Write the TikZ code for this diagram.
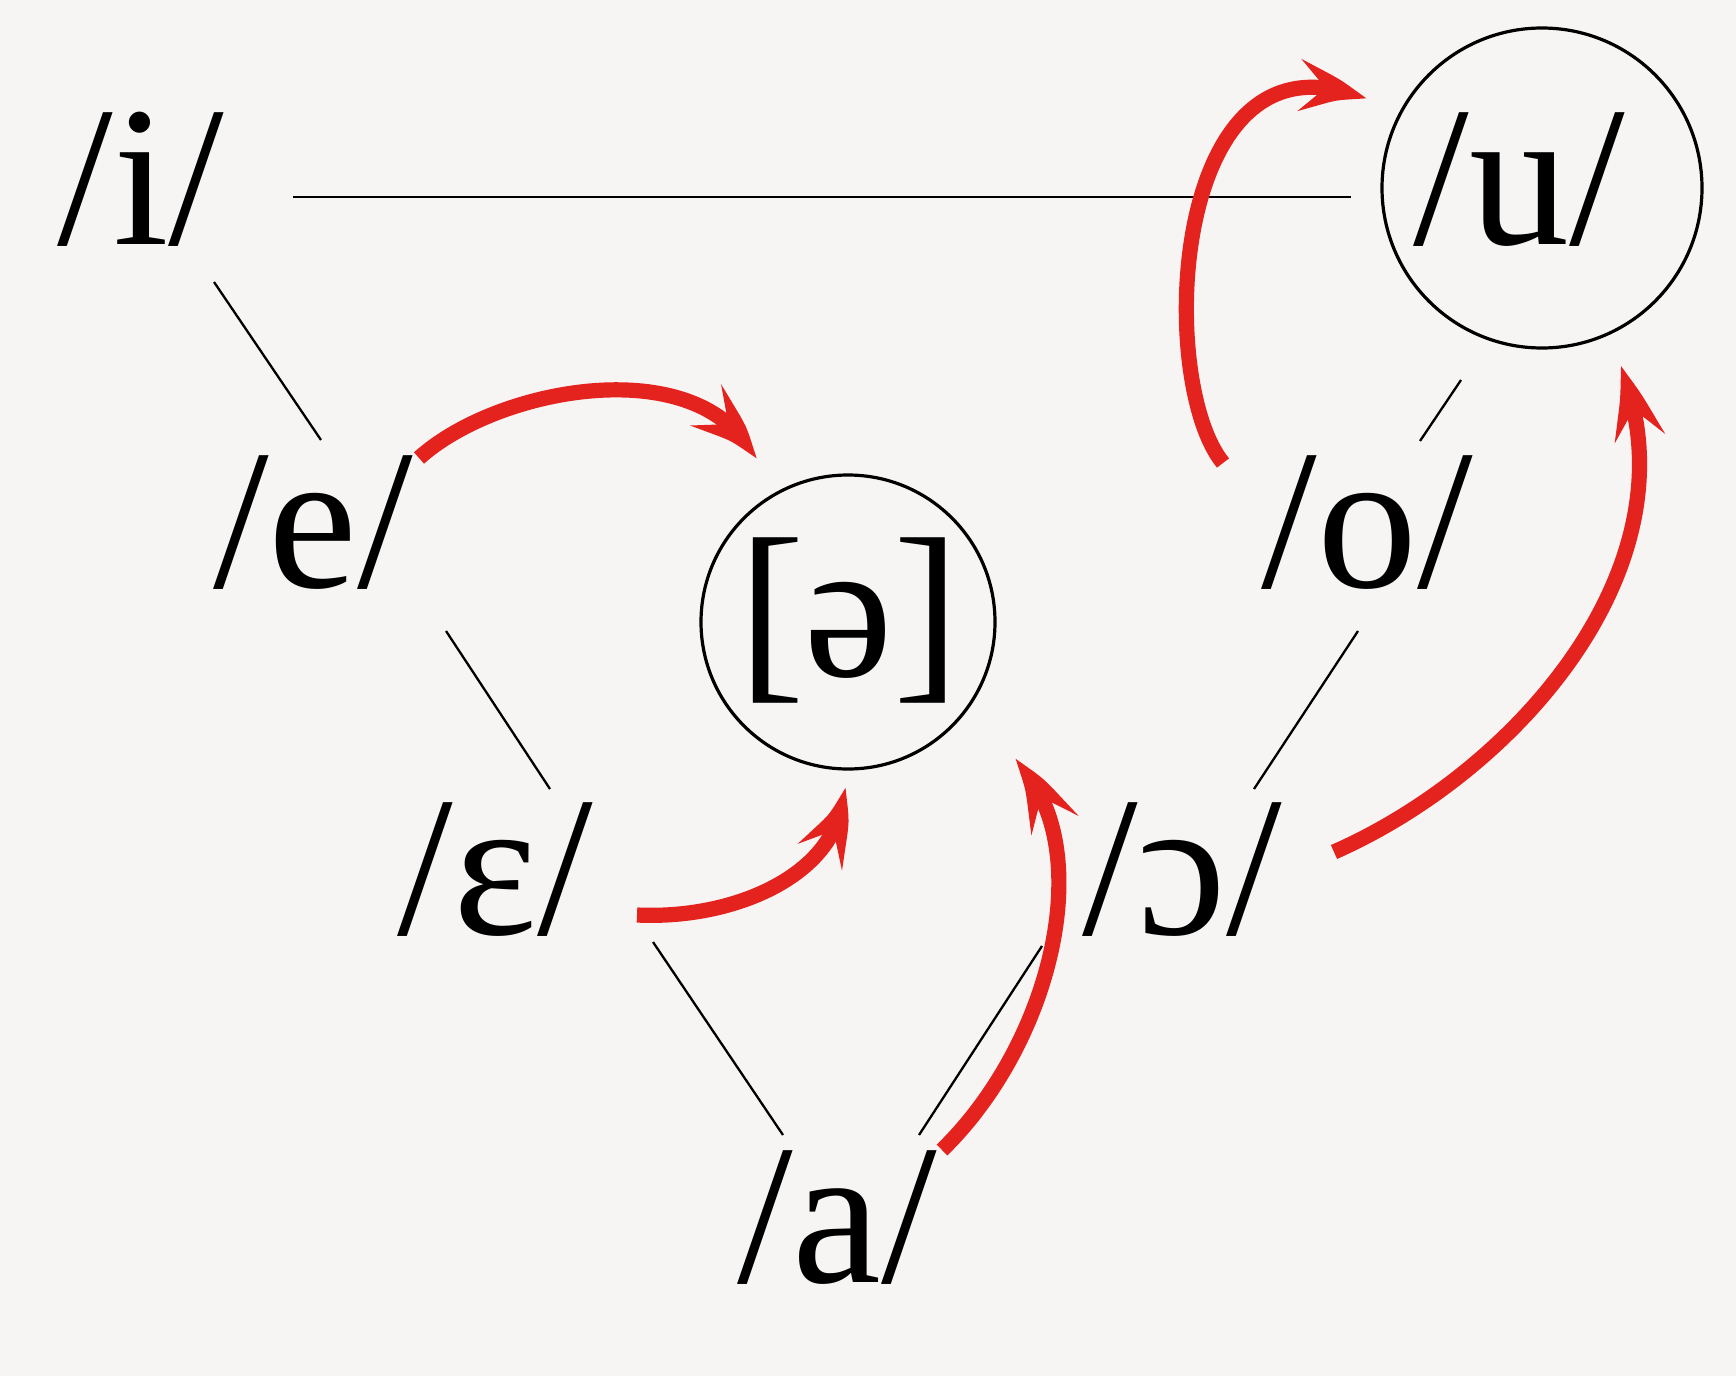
\documentclass[tikz,border=0pt]{standalone}
\usepackage{fontspec}
\setmainfont{Liberation Serif}
\usetikzlibrary{arrows.meta,bending,calc}
\definecolor{bg}{RGB}{246,245,244}
\definecolor{arrred}{RGB}{228,34,30}
\begin{document}
\begin{tikzpicture}[x=0.5pt,y=-0.5pt,
  vowel/.style={anchor=base,inner sep=0pt,font=\fontsize{100}{110}\selectfont},
  ring/.style={circle,draw=black,line width=1.6pt,inner sep=0pt},
  edgeline/.style={draw=black,line width=1.15pt},
  vshift/.style={draw=arrred,line width=7.6pt,-{Stealth[length=38pt,width=25pt,inset=15pt,bend]}}]
\useasboundingbox (0,0) rectangle (1736,1376);
\fill[bg] (0,0) rectangle (1736,1376);
% vowels
\node[vowel] (i) at (141,244) {/i/};
\node[vowel] (u) at (1519,244) {/u/};
\node[vowel] (e) at (313,587) {/e/};
\node[vowel] (o) at (1367,587) {/o/};
\node[vowel] (schwa) at (849,676) {[ə]};
\node[vowel] (eps) at (495,934) {/ɛ/};
\node[vowel] (oo) at (1182,934) {/ɔ/};
\node[vowel] (a) at (837,1282) {/a/};
% circles
\node[ring,minimum size=160pt] (ucirc) at (1542,188) {};
\node[ring,minimum size=147pt] (scirc) at (848,622) {};
% triangle lines
\draw[edgeline] ($(i.base)+(152,-47)$) -- ($(u.base)+(-168,-47)$);
\draw[edgeline] ($(i.base)+(73,38)$) -- ($(e.base)+(8,-147)$);
\draw[edgeline] ($(e.base)+(133,44)$) -- ($(eps.base)+(55,-145)$);
\draw[edgeline] ($(eps.base)+(158,8)$) -- ($(a.base)+(-54,-147)$);
\draw[edgeline] ($(u.base)+(-58,136)$) -- ($(o.base)+(53,-146)$);
\draw[edgeline] ($(o.base)+(-9,44)$) -- ($(oo.base)+(72,-145)$);
\draw[edgeline] ($(oo.base)+(-140,12)$) -- ($(a.base)+(82,-147)$);
% red arrows
\draw[vshift] ($(e.base)+(106,-129)$) .. controls (500,385) and (705,350) .. ($(scirc.center)+(-93,-162)$);
\draw[vshift] ($(eps.base)+(142,-19)$) .. controls (740,920) and (845,870) .. ($(scirc.center)+(-5,165)$);
\draw[vshift] ($(a.base)+(105,-132)$) .. controls (1055,1040) and (1100,840) .. ($(scirc.center)+(166,138)$);
\draw[vshift] ($(o.base)+(-144,-124)$) .. controls (1155,380) and (1170,15) .. ($(ucirc.center)+(-175,-88)$);
\draw[vshift] ($(oo.base)+(152,-82)$) .. controls (1520,770) and (1700,560) .. ($(ucirc.center)+(78,178)$);
\end{tikzpicture}
\end{document}
